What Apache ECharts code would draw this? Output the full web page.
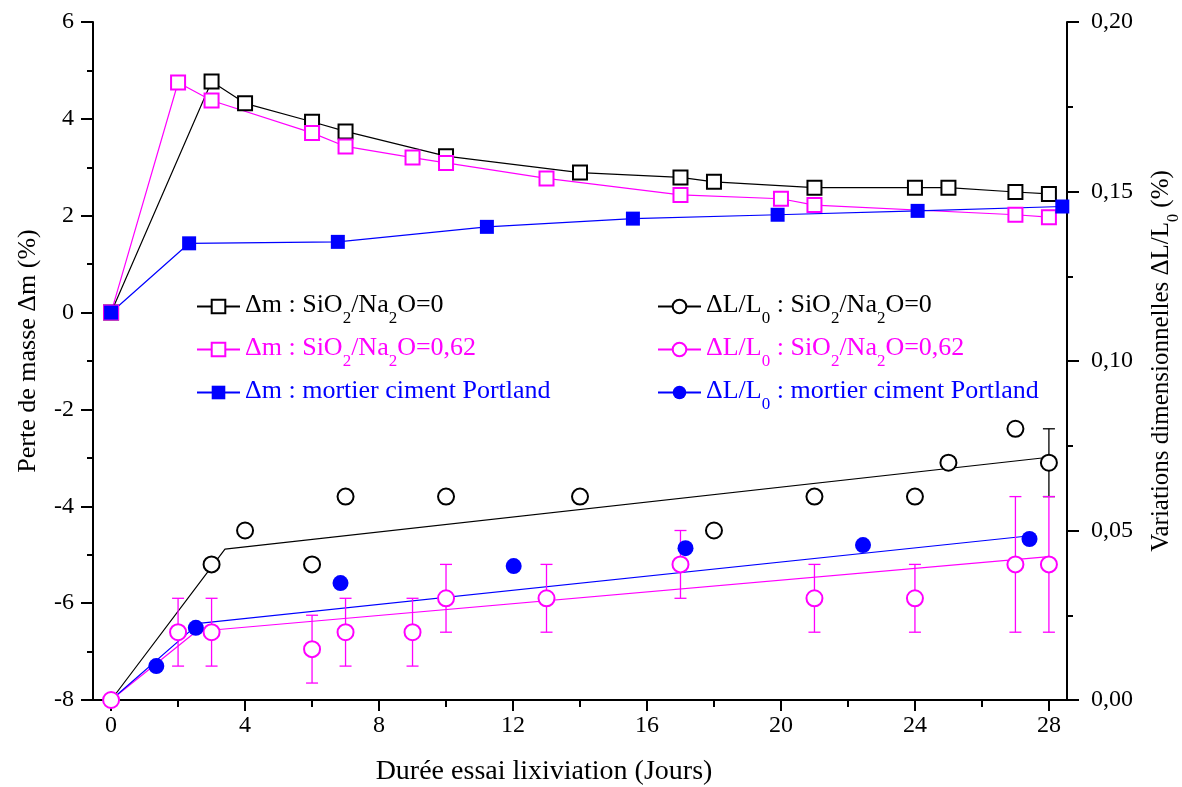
<!DOCTYPE html>
<html>
<head>
<meta charset="utf-8">
<title>Lixiviation</title>
<script src="https://cdn.jsdelivr.net/npm/echarts@6/dist/echarts.min.js"></script>
<style>
  html, body { margin: 0; padding: 0; background: #fff; }
  #chart { width: 1182px; height: 787px; }
</style>
</head>
<body>
<div id="chart"></div>
<script>
// perte de masse Δm (%) -> axe gauche
var dmS0Days = [0, 3, 4, 6, 7, 10, 14, 17, 18, 21, 24, 25, 27, 28];
var dmS0 = [0, 4.77, 4.32, 3.94, 3.74, 3.23, 2.89, 2.79, 2.70, 2.58, 2.58, 2.58, 2.49, 2.45];
var dmS62Days = [0, 2, 3, 6, 7, 9, 10, 13, 17, 20, 21, 27, 28];
var dmS62 = [0, 4.75, 4.38, 3.71, 3.43, 3.20, 3.09, 2.77, 2.43, 2.35, 2.22, 2.02, 1.97];
var dmOpcDays = [0, 2.33, 6.77, 11.22, 15.58, 19.9, 24.08, 28.4];
var dmOpc = [0, 1.43, 1.46, 1.77, 1.94, 2.02, 2.10, 2.19];

// variations dimensionnelles ΔL/L0 (%) -> axe droit
var dlS0Days = [3, 4, 6, 7, 10, 14, 18, 21, 24, 25, 27, 28];
var dlS0 = [0.04, 0.05, 0.04, 0.06, 0.06, 0.06, 0.05, 0.06, 0.06, 0.07, 0.08, 0.07];
var dlS0Err = [0, 0, 0, 0, 0, 0, 0, 0, 0, 0, 0, 0.01];
var dlS62Days = [0, 2, 3, 6, 7, 9, 10, 13, 17, 21, 24, 27, 28];
var dlS62 = [0, 0.02, 0.02, 0.015, 0.02, 0.02, 0.03, 0.03, 0.04, 0.03, 0.03, 0.04, 0.04];
var dlS62Err = [0, 0.01, 0.01, 0.01, 0.01, 0.01, 0.01, 0.01, 0.01, 0.01, 0.01, 0.02, 0.02];
var dlOpcDays = [1.35, 2.53, 6.85, 12.02, 17.15, 22.45, 27.42];
var dlOpc = [0.010, 0.0213, 0.0345, 0.0395, 0.0448, 0.0457, 0.0475];

// droites d'ajustement
var fitS0 = [[0, 0], [3.4, 0.0445], [28, 0.0716]];
var fitS62 = [[0, 0], [2.54, 0.0202], [28, 0.0423]];
var fitOpc = [[0, 0], [2.62, 0.0226], [27.3, 0.0483]];

var xTicks = [0, 4, 8, 12, 16, 20, 24, 28];
var xMinorTicks = [2, 6, 10, 14, 18, 22, 26];

var FONT = 'Liberation Serif';
var BLACK = '#000000', PINK = '#ff00ff', BLUE = '#0000ff';

var names = {
  dmS0: 'Δm : SiO_2/Na_2O=0',
  dmS62: 'Δm : SiO_2/Na_2O=0,62',
  dmOpc: 'Δm : mortier ciment Portland',
  dlS0: 'ΔL/L_0 : SiO_2/Na_2O=0',
  dlS62: 'ΔL/L_0 : SiO_2/Na_2O=0,62',
  dlOpc: 'ΔL/L_0 : mortier ciment Portland'
};

// "_x" -> indice
function richSub(s) {
  return s.split(/_(\w)/).map(function (part, i) {
    if (!part) return '';
    return i % 2 ? '{s|' + part + '}' : '{t|' + part + '}';
  }).join('');
}

function pairs(xs, ys) {
  return xs.map(function (x, i) { return [x, ys[i]]; });
}

function errData(xs, ys, es) {
  var out = [];
  xs.forEach(function (x, i) {
    if (es[i] > 0) out.push([x, ys[i] - es[i], ys[i] + es[i]]);
  });
  return out;
}

function errorBars(name, color, data) {
  return {
    type: 'custom',
    name: name,
    xAxisIndex: 0,
    yAxisIndex: 1,
    z: 3,
    silent: true,
    renderItem: function (params, api) {
      var lo = api.coord([api.value(0), api.value(1)]);
      var hi = api.coord([api.value(0), api.value(2)]);
      var w = 6;
      var st = { stroke: color, lineWidth: 1.3 };
      return {
        type: 'group',
        children: [
          { type: 'line', shape: { x1: lo[0], y1: lo[1], x2: hi[0], y2: hi[1] }, style: st },
          { type: 'line', shape: { x1: lo[0] - w, y1: lo[1], x2: lo[0] + w, y2: lo[1] }, style: st },
          { type: 'line', shape: { x1: hi[0] - w, y1: hi[1], x2: hi[0] + w, y2: hi[1] }, style: st }
        ]
      };
    },
    encode: { x: 0, y: [1, 2] },
    data: data
  };
}

function massLine(name, color, symbol, data) {
  return {
    type: 'line', name: name, yAxisIndex: 0, z: 5,
    data: data, symbol: symbol, symbolSize: 14,
    color: color,
    lineStyle: { color: color, width: 1.2 },
    itemStyle: { color: color, borderWidth: 1.3 }
  };
}

function dimPoints(name, color, symbol, data) {
  return {
    type: 'line', name: name, yAxisIndex: 1, z: 5,
    data: data, symbol: symbol, symbolSize: 16,
    color: color,
    lineStyle: { color: color, width: 1.2, opacity: 0 },
    itemStyle: { color: color, borderWidth: 1.3 }
  };
}

function fitLine(name, color, data) {
  return {
    type: 'line', name: name, yAxisIndex: 1, z: 2, silent: true,
    data: data, symbol: 'none',
    lineStyle: { color: color, width: 1.2 }
  };
}

var richStyles = {
  t: { fontFamily: FONT, fontSize: 26, lineHeight: 29, verticalAlign: 'top' },
  s: { fontFamily: FONT, fontSize: 17, lineHeight: 17, padding: [18, 0, 0, 0], verticalAlign: 'top' }
};

function legendBlock(left, keys, colors, isDim) {
  return {
    orient: 'vertical',
    left: left,
    top: 292,
    padding: 0,
    itemWidth: 43,
    itemHeight: 17,
    itemGap: 8,
    selectedMode: false,
    formatter: function (n) { return richSub(n); },
    textStyle: { fontFamily: FONT, fontSize: 26, rich: richStyles },
    data: keys.map(function (k, i) {
      var d = { name: names[k], textStyle: { color: colors[i] } };
      if (isDim) d.lineStyle = { opacity: 1 };
      return d;
    })
  };
}

var axisTxt = { color: BLACK, fontFamily: FONT, fontSize: 24 };

var chart = echarts.init(document.getElementById('chart'));
chart.setOption({
  backgroundColor: '#fff',
  animation: false,
  grid: { left: 93, right: 115, top: 22, bottom: 87, containLabel: false, outerBoundsMode: 'none' },
  legend: [
    legendBlock(196, ['dmS0', 'dmS62', 'dmOpc'], [BLACK, PINK, BLUE], false),
    legendBlock(657, ['dlS0', 'dlS62', 'dlOpc'], [BLACK, PINK, BLUE], true)
  ],
  xAxis: [{
    type: 'value', position: 'bottom', min: -0.54, max: 28.54,
    axisLine: { onZero: false, lineStyle: { color: BLACK, width: 2 } },
    axisTick: { customValues: xTicks, length: 11, lineStyle: { color: BLACK, width: 2 } },
    axisLabel: Object.assign({ customValues: xTicks, margin: 14 }, axisTxt),
    splitLine: { show: false },
    name: 'Durée essai lixiviation (Jours)',
    nameLocation: 'middle', nameGap: 58,
    nameTextStyle: { color: BLACK, fontFamily: FONT, fontSize: 28, padding: [0, 72, 0, 0] }
  }, {
    // petites graduations
    type: 'value', position: 'top', offset: -678, min: -0.54, max: 28.54,
    axisLine: { show: false, onZero: false },
    axisTick: { customValues: xMinorTicks, inside: true, length: 7, lineStyle: { color: BLACK, width: 2 } },
    axisLabel: { show: false },
    splitLine: { show: false }
  }],
  yAxis: [{
    type: 'value', position: 'left', min: -8, max: 6, interval: 2,
    axisLine: { show: true, onZero: false, lineStyle: { color: BLACK, width: 2 } },
    axisTick: { show: true, length: 12, lineStyle: { color: BLACK, width: 2 } },
    minorTick: { show: true, splitNumber: 2, length: 6, lineStyle: { color: BLACK, width: 2 } },
    axisLabel: Object.assign({ margin: 19 }, axisTxt),
    splitLine: { show: false },
    name: 'Perte de masse Δm (%)',
    nameLocation: 'middle', nameRotate: 90, nameGap: 52,
    nameTextStyle: { color: BLACK, fontFamily: FONT, fontSize: 26, padding: [0, 0, 0, 20] }
  }, {
    type: 'value', position: 'right', min: 0, max: 0.2, interval: 0.05,
    axisLine: { show: true, onZero: false, lineStyle: { color: BLACK, width: 2 } },
    axisTick: { show: true, length: 12, lineStyle: { color: BLACK, width: 2 } },
    minorTick: { show: true, splitNumber: 2, length: 6, lineStyle: { color: BLACK, width: 2 } },
    axisLabel: Object.assign({
      margin: 24,
      formatter: function (v) { return v.toFixed(2).replace('.', ','); }
    }, axisTxt),
    splitLine: { show: false },
    name: richSub('Variations dimensionnelles ΔL/L_0 (%)'),
    nameLocation: 'middle', nameRotate: 90, nameGap: 82,
    nameTextStyle: {
      color: BLACK, fontFamily: FONT, fontSize: 25,
      rich: {
        t: { fontFamily: FONT, fontSize: 25, lineHeight: 28, verticalAlign: 'top' },
        s: { fontFamily: FONT, fontSize: 16, lineHeight: 16, padding: [17, 0, 0, 0], verticalAlign: 'top' }
      }
    }
  }],
  series: [
    fitLine('fitS0', BLACK, fitS0),
    fitLine('fitS62', PINK, fitS62),
    fitLine('fitOpc', BLUE, fitOpc),
    errorBars('errS0', BLACK, errData(dlS0Days, dlS0, dlS0Err)),
    errorBars('errS62', PINK, errData(dlS62Days, dlS62, dlS62Err)),
    massLine(names.dmS0, BLACK, 'emptyRect', pairs(dmS0Days, dmS0)),
    massLine(names.dmS62, PINK, 'emptyRect', pairs(dmS62Days, dmS62)),
    massLine(names.dmOpc, BLUE, 'rect', pairs(dmOpcDays, dmOpc)),
    dimPoints(names.dlS0, BLACK, 'emptyCircle', pairs(dlS0Days, dlS0)),
    dimPoints(names.dlS62, PINK, 'emptyCircle', pairs(dlS62Days, dlS62)),
    dimPoints(names.dlOpc, BLUE, 'circle', pairs(dlOpcDays, dlOpc))
  ]
});
</script>
</body>
</html>
